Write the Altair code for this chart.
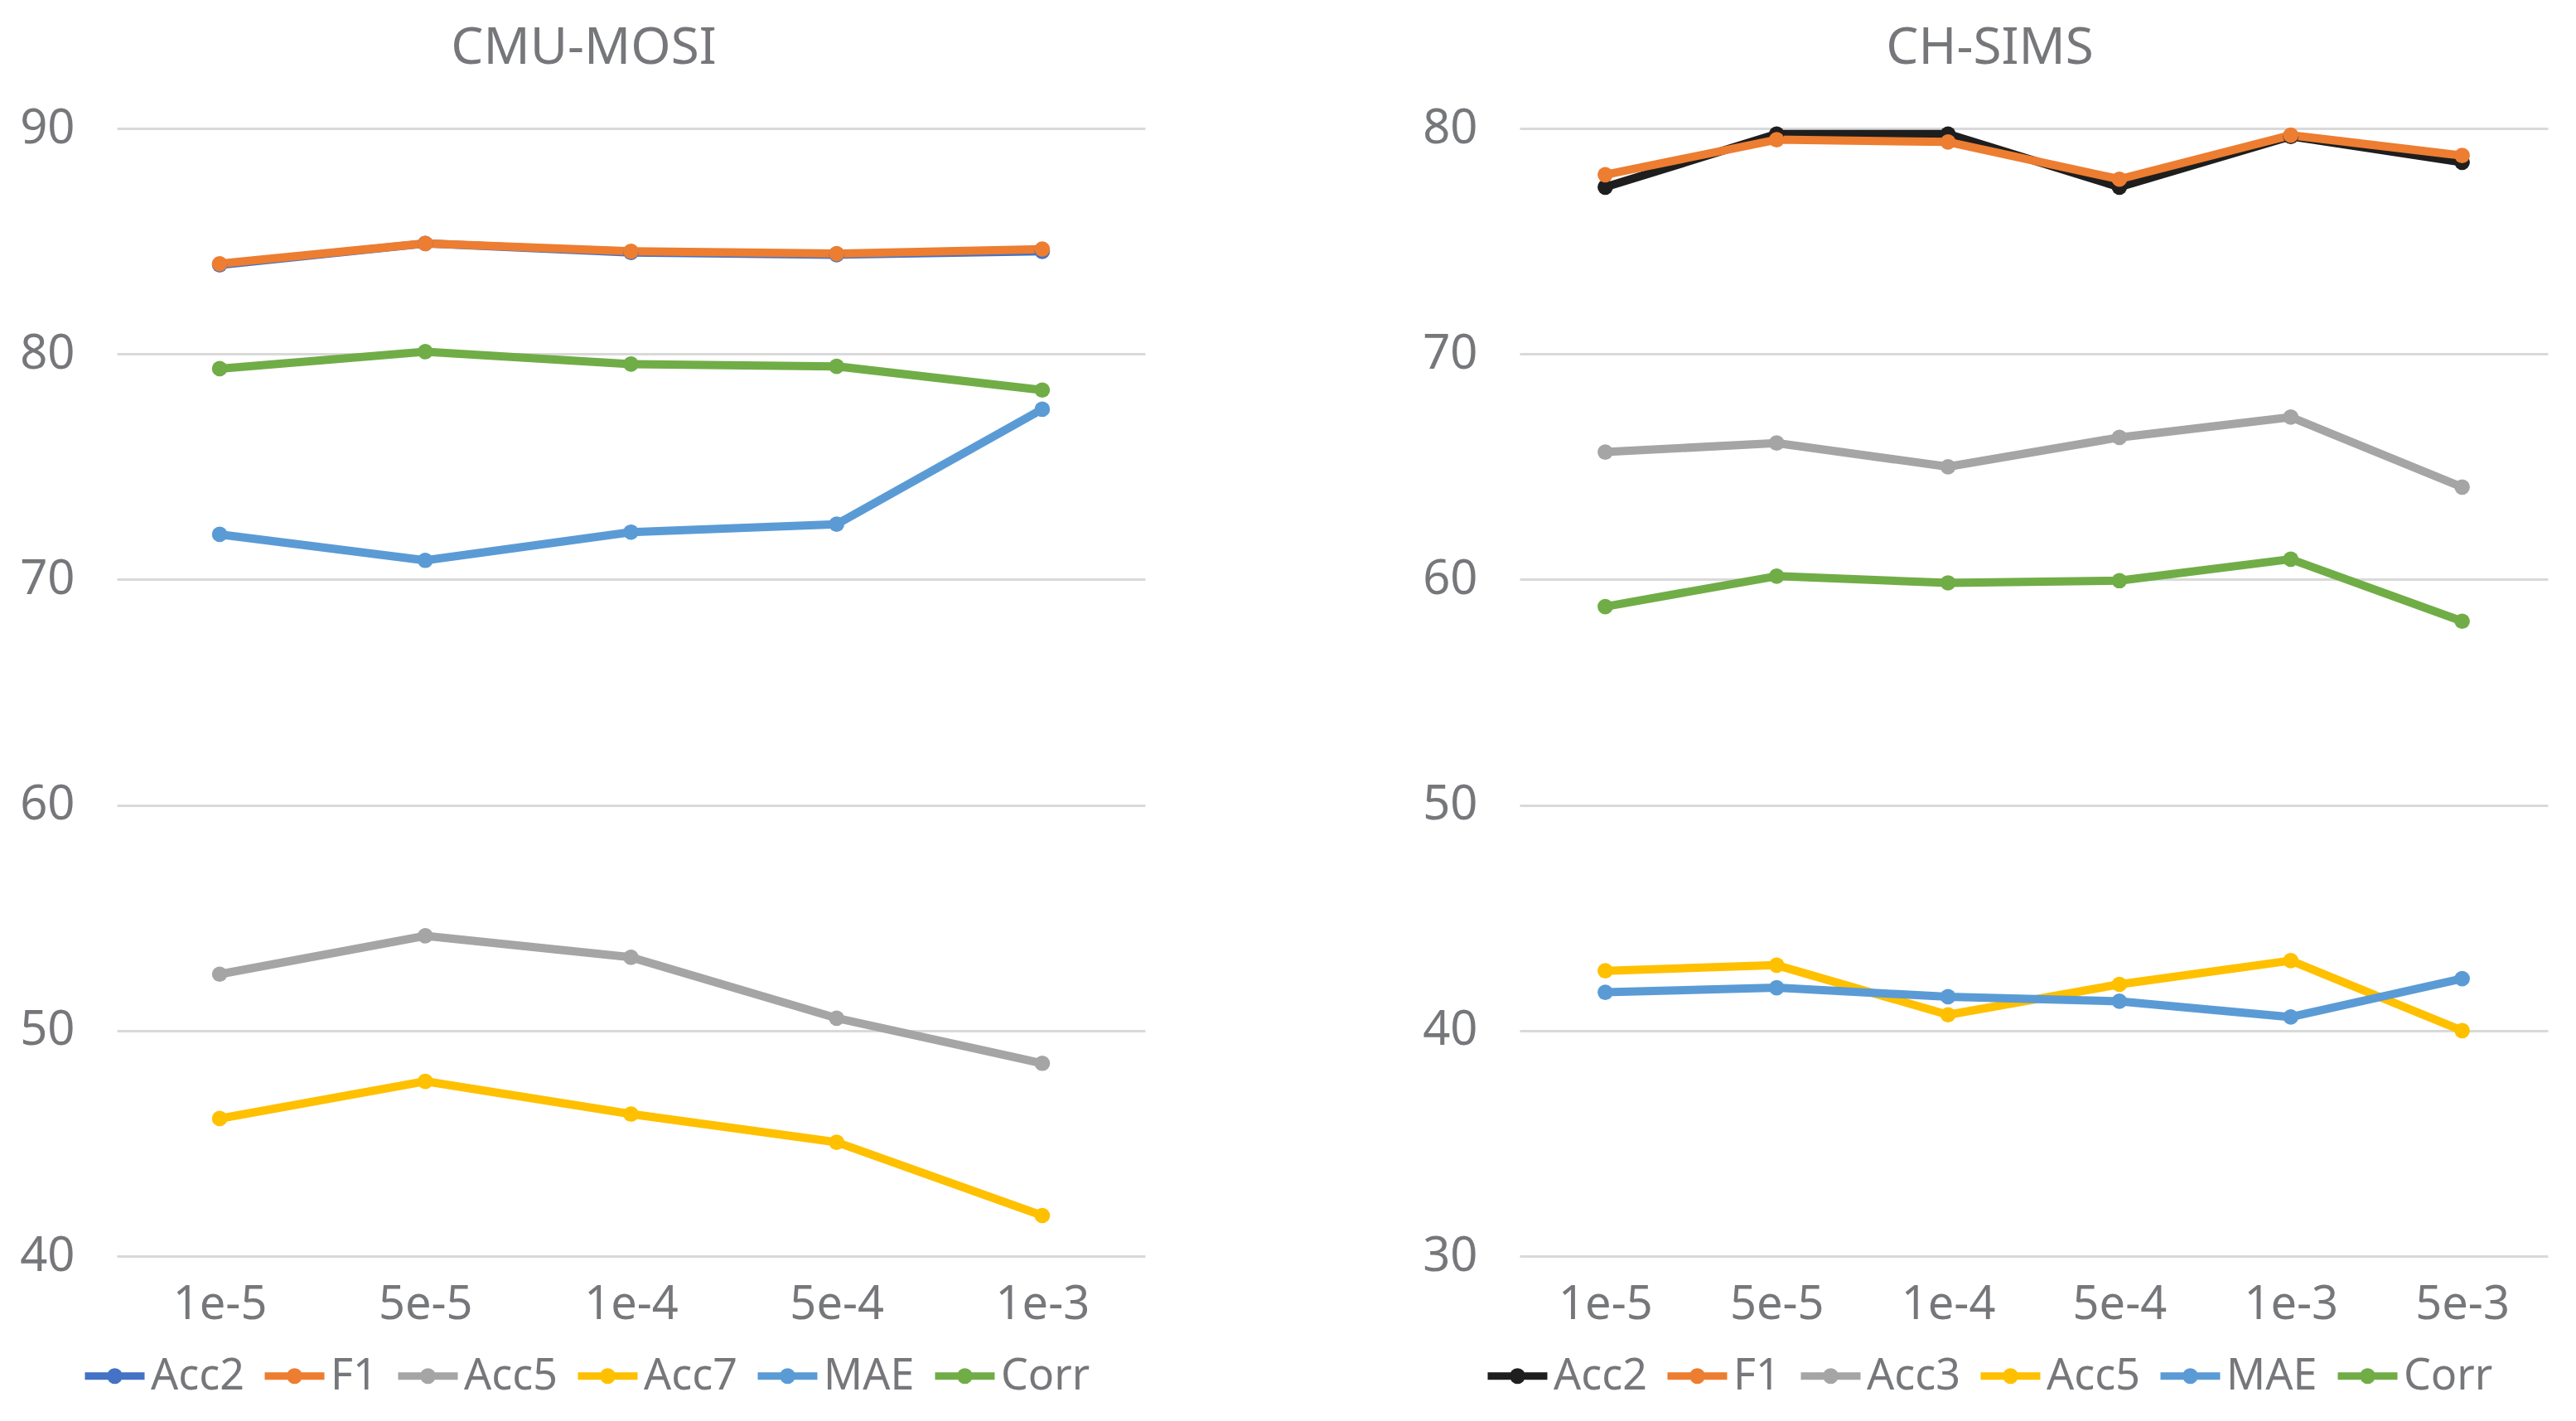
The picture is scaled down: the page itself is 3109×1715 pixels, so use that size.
import altair as alt
import pandas as pd

# ---------------- data ----------------
mosi_cats = ["1e-5", "5e-5", "1e-4", "5e-4", "1e-3"]
mosi_series = ["Acc2", "F1", "Acc5", "Acc7", "MAE", "Corr"]
mosi_acc2 = [83.95, 84.9, 84.5, 84.4, 84.55]
mosi_f1 = [84.0, 84.9, 84.55, 84.45, 84.65]
mosi_acc5 = [52.5, 54.2, 53.25, 50.55, 48.55]
mosi_acc7 = [46.1, 47.75, 46.3, 45.05, 41.8]
mosi_mae = [72.0, 70.85, 72.1, 72.45, 77.55]
mosi_corr = [79.35, 80.1, 79.55, 79.45, 78.4]
mosi_colors = ["#4472C4", "#ED7D31", "#A5A5A5", "#FFC000", "#5B9BD5", "#70AD47"]

sims_cats = ["1e-5", "5e-5", "1e-4", "5e-4", "1e-3", "5e-3"]
sims_series = ["Acc2", "F1", "Acc3", "Acc5", "MAE", "Corr"]
sims_acc2 = [77.4, 79.75, 79.75, 77.4, 79.65, 78.5]
sims_f1 = [77.95, 79.5, 79.4, 77.75, 79.7, 78.8]
sims_acc3 = [65.65, 66.05, 65.0, 66.3, 67.2, 64.1]
sims_acc5 = [42.65, 42.9, 40.7, 42.05, 43.1, 40.0]
sims_mae = [41.7, 41.9, 41.5, 41.3, 40.6, 42.3]
sims_corr = [58.8, 60.15, 59.85, 59.95, 60.9, 58.15]
sims_colors = ["#1E1E1E", "#ED7D31", "#A5A5A5", "#FFC000", "#5B9BD5", "#70AD47"]

mosi_ticks = [40, 50, 60, 70, 80, 90]
sims_ticks = [30, 40, 50, 60, 70, 80]

TEXT = "#76777A"
FONT = "Noto Sans"
LEGEND_SYMBOL = ("M-1,0H1M-0.14,0A0.14,0.14 0 1,0 0.14,0"
                 "A0.14,0.14 0 1,0 -0.14,0")


def long_df(cats, names, arrays):
    rows = []
    for name, arr in zip(names, arrays):
        for c, v in zip(cats, arr):
            rows.append({"x": c, "series": name, "value": v})
    return pd.DataFrame(rows)


def panel(title, cats, names, arrays, colors, ticks, title_dx):
    df = long_df(cats, names, arrays)
    base = alt.Chart(df)
    x = alt.X("x:N", sort=cats, title=None,
              axis=alt.Axis(labelAngle=0, ticks=False, tickSize=0, domain=False,
                            grid=False, labelPadding=31, labelFontSize=56,
                            labelColor=TEXT, labelFont=FONT))
    y = alt.Y("value:Q", title=None,
              scale=alt.Scale(domain=[ticks[0], ticks[-1]], nice=False, zero=False),
              axis=alt.Axis(values=ticks, ticks=False, tickSize=0, domain=False,
                            grid=True, gridColor="#D9D9D9", gridWidth=3,
                            labelPadding=51, labelFontSize=58, labelColor=TEXT,
                            labelFont=FONT))
    cscale = alt.Scale(domain=names, range=colors)
    line = base.mark_line(strokeWidth=10, strokeJoin="round").encode(
        x=x, y=y,
        color=alt.Color("series:N", sort=names, scale=cscale,
                        legend=alt.Legend(
                            title=None, orient="none", direction="horizontal",
                            legendX=-43, legendY=1465,
                            symbolType=LEGEND_SYMBOL, symbolSize=5184,
                            symbolStrokeWidth=9, symbolOpacity=1,
                            labelFontSize=52, labelColor=TEXT, labelFont=FONT,
                            labelOffset=3, columnPadding=6,
                            labelLimit=400)),
        detail="series:N",
    )
    pts = base.mark_circle(size=350, opacity=1).encode(
        x=x, y=y,
        color=alt.Color("series:N", sort=names, scale=cscale, legend=None),
    )
    return alt.layer(line, pts).properties(
        width=1241, height=1361,
        title=alt.TitleParams(title, fontSize=62, color=TEXT, font=FONT,
                              fontWeight="normal", anchor="middle",
                              frame="group", dx=title_dx, offset=36),
    )


left = panel("CMU-MOSI", mosi_cats, mosi_series,
             [mosi_acc2, mosi_f1, mosi_acc5, mosi_acc7, mosi_mae, mosi_corr],
             mosi_colors, mosi_ticks, -57)
right = panel("CH-SIMS", sims_cats, sims_series,
              [sims_acc2, sims_f1, sims_acc3, sims_acc5, sims_mae, sims_corr],
              sims_colors, sims_ticks, -53)

chart = alt.hconcat(left, right, spacing=334).resolve_scale(
    color="independent", x="independent", y="independent"
).resolve_legend(color="independent").properties(
    padding={"left": 15, "top": 19, "right": 5, "bottom": 5},
    background="white",
).configure_view(stroke=None)

chart.save("out.html", embed_options={"renderer": "svg", "actions": False})
